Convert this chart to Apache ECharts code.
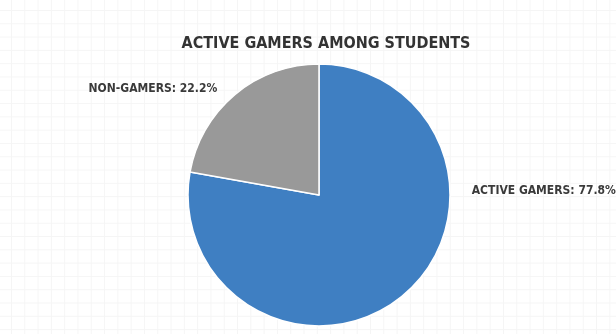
<!DOCTYPE html>
<html>
<head>
<meta charset="utf-8">
<script src="https://cdn.jsdelivr.net/npm/echarts@6/dist/echarts.min.js"></script>
<style>
  html, body { margin: 0; padding: 0; }
  body {
    background-color: #ffffff;
    background-image:
      linear-gradient(to right, #f5f5f5 1px, transparent 1px),
      linear-gradient(to bottom, #f5f5f5 1px, transparent 1px);
    background-size: 13.3px 13.3px;
    background-position: 11px 10px;
  }
  #chart { width: 616px; height: 334px; }
</style>
</head>
<body>
<div id="chart"></div>
<script>
// Data
const categories = ['ACTIVE GAMERS', 'NON-GAMERS'];
const shares = [77.8, 22.2];
const sliceColors = ['#3f7fc2', '#999999'];

const labelFont = '"DejaVu Sans Condensed", "Liberation Sans Narrow", sans-serif';

const chart = echarts.init(document.getElementById('chart'), null, { renderer: 'canvas' });

const pieData = categories.map((name, i) => ({
  name: name,
  value: shares[i],
  itemStyle: { color: sliceColors[i] }
}));

chart.setOption({
  backgroundColor: 'transparent',
  animation: false,
  title: {
    text: 'ACTIVE GAMERS AMONG STUDENTS',
    left: 321,
    textAlign: 'center',
    top: 31,
    textStyle: {
      fontFamily: labelFont,
      fontWeight: 'bold',
      fontSize: 16,
      color: '#333333'
    }
  },
  series: [{
    type: 'pie',
    center: [319, 195],
    radius: 131,
    startAngle: 90,
    clockwise: true,
    data: pieData,
    itemStyle: { borderColor: '#ffffff', borderWidth: 1.5 },
    label: {
      show: true,
      position: 'outside',
      formatter: p => p.name + ': ' + p.value + '%',
      fontFamily: labelFont,
      fontWeight: 'bold',
      fontSize: 12,
      color: '#3a3a3a'
    },
    labelLine: { show: false },
    // place labels relative to each slice's bounding box
    labelLayout: function (params) {
      const r = params.rect;
      if (params.dataIndex === 0) {
        return { x: r.x + r.width + 21, y: r.y + r.height / 2 - 4, align: 'left', verticalAlign: 'middle' };
      }
      return { x: r.x + 28, y: r.y + 26, align: 'right', verticalAlign: 'middle' };
    }
  }]
});
</script>
</body>
</html>
